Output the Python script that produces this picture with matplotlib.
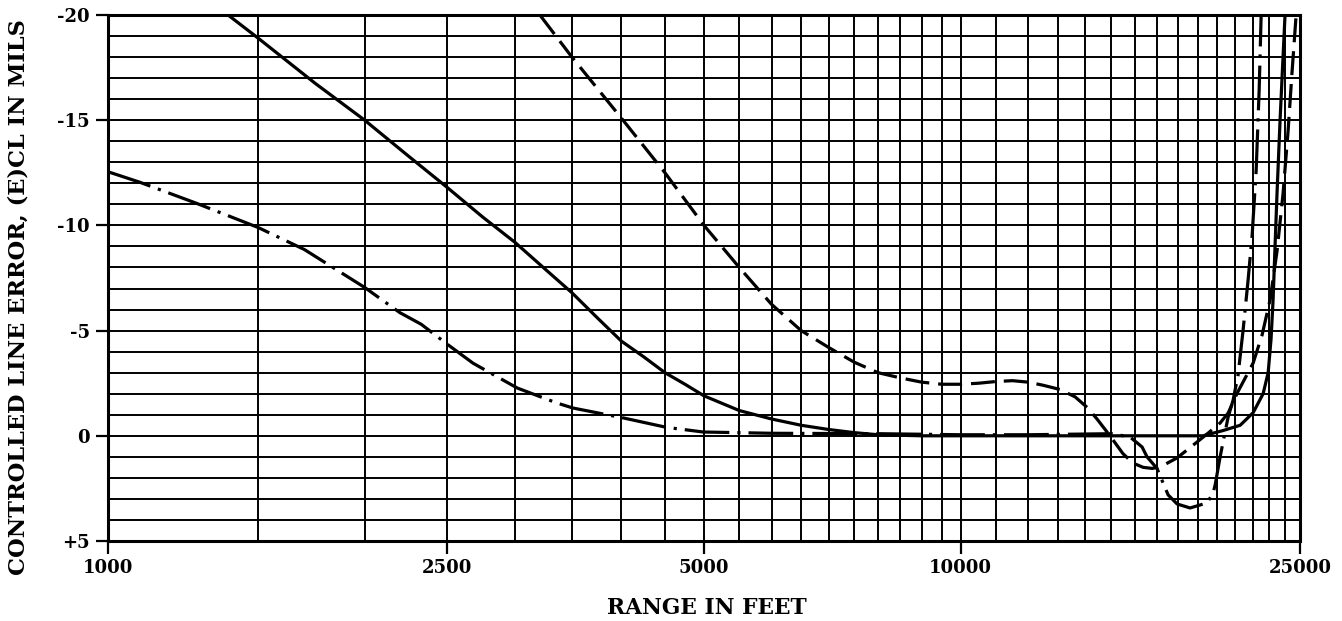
import numpy as np
import matplotlib
matplotlib.use("Agg")
import matplotlib.pyplot as plt
from matplotlib.ticker import FixedLocator, NullFormatter

plt.rcParams['font.family'] = ['DejaVu Serif']

# Range (feet) and controlled line error (mils) for the three trajectories
x_solid = [1383, 1500, 1750, 2000, 2250, 2500, 2750, 3000, 3250, 3500, 3750,
           4000, 4250, 4500, 4750, 5000, 5500, 6000, 6500, 7000, 7500, 8000,
           9000, 19250, 20310, 21270, 22030, 22630, 22940, 23120, 23250,
           23370, 23500, 23690, 23880, 24010]
y_solid = [-20, -18.9, -16.75, -15.0, -13.3, -11.8, -10.4, -9.2, -7.95, -6.8,
           -5.6, -4.5, -3.75, -3.0, -2.45, -1.9, -1.2, -0.8, -0.5, -0.3,
           -0.15, -0.05, 0, 0, -0.25, -0.5, -1.1, -2.0, -3.0, -4.6, -6.5,
           -9.0, -11.6, -15.0, -18.0, -20]

x_dashed = [3210, 3500, 4000, 4500, 5000, 5500, 6000, 6500, 7000, 7500, 8000,
            8500, 9000, 9500, 10000, 10500, 11000, 11500, 12000, 12500, 13080,
            13620, 14070, 14450, 14770, 15090, 15500, 15930, 16370, 16770,
            17140, 17940, 18940, 19510, 20150, 20590, 21100, 21440, 22030,
            22570, 23070, 23500, 23880, 24210, 24470, 24740]
y_dashed = [-20, -18.0, -15.1, -12.5, -10.0, -8.0, -6.25, -5.0, -4.2, -3.5,
            -3.0, -2.75, -2.55, -2.45, -2.45, -2.5, -2.58, -2.62, -2.55, -2.4,
            -2.2, -1.85, -1.35, -0.8, -0.3, 0.2, 0.85, 1.3, 1.5, 1.55, 1.48,
            1.05, 0.29, -0.13, -0.61, -1.08, -2.03, -2.56, -3.46, -4.8, -6.5,
            -8.8, -11.5, -14.5, -17.3, -20]

x_dashdot = [1000, 1090, 1270, 1500, 1700, 2000, 2200, 2330, 2500, 2680, 3020,
             3360, 3510, 4020, 4520, 4990, 6000, 8000, 10000, 12000, 15050,
             15800, 16320, 16540, 16990, 17510, 17940, 18580, 19450, 19770,
             19880, 20150, 20310, 20590, 20870, 21150, 21440, 21730, 21970,
             22210, 22390, 22510]
y_dashdot = [-12.55, -12.05, -11.05, -9.9, -8.85, -7.05, -5.85, -5.3, -4.35,
             -3.45, -2.27, -1.56, -1.32, -0.85, -0.4, -0.18, -0.12, -0.1,
             -0.05, -0.05, -0.1, 0.06, 0.53, 1.0, 1.55, 2.81, 3.24, 3.43, 3.19,
             2.72, 2.34, 1.0, 0.3, -0.89, -1.7, -2.89, -5.03, -7.4, -9.54,
             -12.63, -16.44, -20]

x_ticks = [1000, 2500, 5000, 10000, 25000]
x_tick_labels = ['1000', '2500', '5000', '10000', '25000']
y_ticks = [-20, -15, -10, -5, 0, 5]
y_tick_labels = ['-20', '-15', '-10', '-5', '0', '+5']

# Ruling of the chart paper
x_grid = ([1500, 2000] + list(range(2500, 10000, 500))
          + list(range(10000, 25001, 1000)))
y_grid = list(range(-20, 6))

fig = plt.figure(figsize=(13.42, 6.21), dpi=100)
ax = fig.add_axes([108 / 1342, 80 / 621, 1192 / 1342, 526 / 621])
ax.set_xscale('log')
ax.set_xlim(1000, 25000)
ax.set_ylim(5, -20)

ax.xaxis.set_major_locator(FixedLocator(x_ticks))
ax.xaxis.set_minor_locator(FixedLocator(x_grid))
ax.xaxis.set_minor_formatter(NullFormatter())
ax.set_xticklabels(x_tick_labels, fontweight='bold')
ax.yaxis.set_major_locator(FixedLocator(y_ticks))
ax.yaxis.set_minor_locator(FixedLocator(y_grid))
ax.set_yticklabels(y_tick_labels, fontweight='bold')

ax.grid(which='both', color='black', linewidth=1.4)
ax.set_axisbelow(True)
ax.tick_params(which='minor', length=0)
ax.tick_params(which='major', length=9, width=1.6, labelsize=13,
               direction='out', pad=4)
for s in ax.spines.values():
    s.set_linewidth(2.2)

lw = 2.3
ax.plot(x_solid, y_solid, color='black', lw=lw, solid_joinstyle='round')
ax.plot(x_dashed, y_dashed, color='black', lw=lw, linestyle=(0, (7.5, 2.8)))
ax.plot(x_dashdot, y_dashdot, color='black', lw=lw,
        linestyle=(0, (14, 2.5, 1, 2.5)))

fig.text(19 / 1342, 1 - 297 / 621, 'CONTROLLED LINE ERROR, (E)CL IN MILS',
         rotation=90, ha='center', va='center', fontsize=16.2,
         fontweight='bold')
fig.text(707 / 1342, 1 - 608 / 621, 'RANGE IN FEET',
         ha='center', va='center', fontsize=15.7, fontweight='bold')

fig.savefig('out.png', dpi=100)
